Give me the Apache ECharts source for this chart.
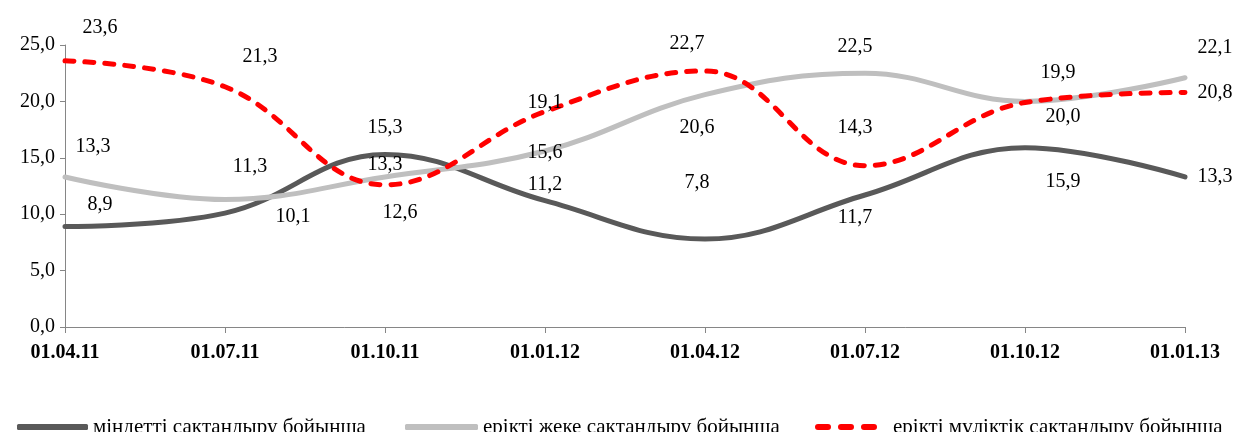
<!DOCTYPE html>
<html>
<head>
<meta charset="utf-8">
<script src="https://cdn.jsdelivr.net/npm/echarts@6/dist/echarts.min.js"></script>
<style>
  html, body { margin: 0; padding: 0; background: #fff; }
  #chart { width: 1247px; height: 432px; }
</style>
</head>
<body>
<div id="chart"></div>
<script>
// данные
const categories = ['01.04.11', '01.07.11', '01.10.11', '01.01.12', '01.04.12', '01.07.12', '01.10.12', '01.01.13']
const seriesNames = ['міндетті сақтандыру бойынша', 'ерікті жеке сақтандыру бойынша', 'ерікті мүліктік сақтандыру бойынша']
const mandatory = [8.9, 10.1, 15.3, 11.2, 7.8, 11.7, 15.9, 13.3]
const voluntaryPersonal = [13.3, 11.3, 13.3, 15.6, 20.6, 22.5, 20.0, 22.1]
const voluntaryProperty = [23.6, 21.3, 12.6, 19.1, 22.7, 14.3, 19.9, 20.8]
const yTicks = [0, 5, 10, 15, 20, 25]

// смещения подписей (как в оригинале)
const offMandatory = [[35, -22], [68, 4], [0, -27], [0, -16], [-8, -56], [-10, 23], [38, 34], [30, 0]]
const offPersonal = [[28, -30], [25, -33], [0, -12], [0, 2], [-8, 33], [-10, -26], [38, 15], [30, -30]]
const offProperty = [[35, -33], [35, -30], [15, 28], [0, -9], [-18, -27], [-10, -38], [33, -30], [30, 0]]

const colors = ['#595959', '#bfbfbf', '#ff0000']
const fmt = v => Number(v).toFixed(1).replace('.', ',')
const font = 'Liberation Serif'

const withLabels = (values, offs) => values.map((v, i) => ({
  value: v,
  label: { offset: offs[i] }
}))

const makeSeries = (name, values, offs, color, type) => ({
  name: name,
  type: 'line',
  smooth: 0.4,
  symbol: 'circle',
  symbolSize: 0,
  showSymbol: true,
  data: withLabels(values, offs),
  lineStyle: { color: color, width: 5, type: type, cap: 'round' },
  itemStyle: { color: color },
  label: {
    show: true,
    position: 'inside',
    formatter: p => fmt(p.value),
    color: '#000',
    fontFamily: font,
    fontSize: 20
  },
  emphasis: { disabled: true },
  z: type === 'solid' ? 2 : 3
})

// отдельная легенда для каждого ряда
const makeLegend = (name, left, width, icon, color, pad) => ({
  top: 411,
  left: left,
  itemWidth: width,
  itemHeight: 6,
  selectedMode: false,
  itemStyle: { color: color },
  textStyle: { fontFamily: font, fontSize: 21, lineHeight: 22, color: '#000', padding: [0, 0, 0, pad] },
  data: [{ name: name, icon: icon }]
})

const dashIcon = 'path://M3,0h10a3,3 0 0 1 0,6h-10a3,3 0 0 1 0,-6z M26,0h10a3,3 0 0 1 0,6h-10a3,3 0 0 1 0,-6z M49,0h10a3,3 0 0 1 0,6h-10a3,3 0 0 1 0,-6z'

const chart = echarts.init(document.getElementById('chart'))
const option = {
  animation: false,
  grid: { left: 65, right: 62, top: 45, bottom: 105 },
  legend: [
    makeLegend(seriesNames[0], 12, 71, 'roundRect', colors[0], 0),
    makeLegend(seriesNames[1], 400, 73, 'roundRect', colors[1], 0),
    makeLegend(seriesNames[2], 810, 62, dashIcon, colors[2], 11)
  ],
  xAxis: {
    type: 'category',
    data: categories,
    boundaryGap: false,
    axisLine: { lineStyle: { color: '#868686', width: 1 } },
    axisTick: { show: true, length: 6, alignWithLabel: true, lineStyle: { color: '#868686' } },
    axisLabel: { color: '#000', fontFamily: font, fontSize: 20, fontWeight: 'bold', margin: 16 }
  },
  yAxis: {
    type: 'value',
    min: yTicks[0],
    max: yTicks[yTicks.length - 1],
    interval: 5,
    axisLine: { show: true, lineStyle: { color: '#868686', width: 1 } },
    axisTick: { show: true, length: 5, lineStyle: { color: '#868686' } },
    splitLine: { show: false },
    axisLabel: { color: '#000', fontFamily: font, fontSize: 20, margin: 10, formatter: v => fmt(v) }
  },
  series: [
    makeSeries(seriesNames[0], mandatory, offMandatory, colors[0], 'solid'),
    makeSeries(seriesNames[1], voluntaryPersonal, offPersonal, colors[1], 'solid'),
    makeSeries(seriesNames[2], voluntaryProperty, offProperty, colors[2], [9, 11])
  ]
}
option && chart.setOption(option)
</script>
</body>
</html>
